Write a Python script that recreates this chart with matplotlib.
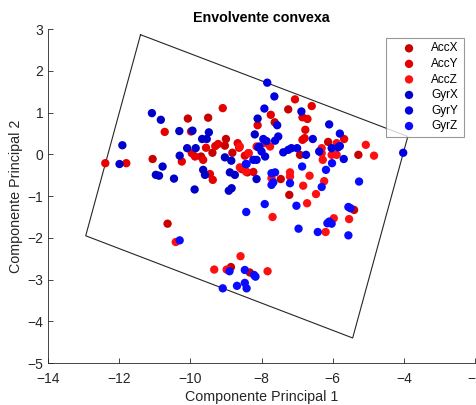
import matplotlib
matplotlib.use("Agg")
import matplotlib.pyplot as plt

plt.rcParams["font.family"] = ["Liberation Sans", "DejaVu Sans"]

series_names = ["AccX", "AccY", "AccZ", "GyrX", "GyrY", "GyrZ"]
series_colors = ["#c80000", "#e60000", "#ff1010", "#0000c8", "#0000e0", "#0a0aff"]

# principal component scores per sensor channel
accx_x = [-11.06, -10.07, -9.50, -9.38, -9.00, -9.03, -8.82, -7.25, -7.63, -5.28,
          -10.64, -5.40, -8.86, -9.70, -8.33, -6.13, -7.22, -8.40, -7.46, -6.92]
accx_y = [-0.11, 0.86, 0.88, 0.04, 0.37, 0.21, 0.04, 1.08, 0.77, -0.01,
          -1.66, -1.33, -2.70, -0.05, -2.83, 0.30, -0.97, -0.43, -0.59, -0.01]

accy_x = [-12.39, -11.80, -10.72, -10.24, -9.98, -9.09, -9.96, -9.87, -9.64, -9.56,
          -9.30, -9.22, -8.67, -8.63, -8.37, -8.47, -8.56, -8.23, -9.45, -9.37,
          -8.11, -7.06, -6.59, -7.74, -6.85, -6.71, -6.77, -5.68, -6.85, -6.79]
accy_y = [-0.21, -0.21, 0.54, -0.17, 0.55, 1.11, 0.03, -0.05, -0.13, 0.16,
          0.20, 0.25, 0.27, 0.16, 0.03, -0.03, -0.35, -0.42, -0.47, -0.61,
          0.70, 1.32, 1.16, 0.95, 0.89, 0.85, 0.59, 0.37, 0.35, 0.39]

accz_x = [-5.89, -7.90, -7.76, -8.14, -8.61, -8.36, -6.31, -6.31, -6.03, -5.89,
          -6.28, -5.07, -4.84, -8.61, -8.44, -7.72, -7.20, -7.20, -6.65, -6.83,
          -6.24, -6.47, -6.72, -7.69, -6.20, -5.97, -5.54, -10.41, -9.33, -8.98,
          -8.59, -7.83]
accz_y = [0.27, 0.27, 0.19, 0.19, 0.19, 0.03, 0.15, 0.03, -0.01, -0.01,
          -0.13, 0.23, -0.03, -0.31, -0.41, -0.57, -0.43, -0.53, -0.51, -0.75,
          -0.64, -0.95, -1.17, -1.50, -1.86, -1.53, -1.55, -2.10, -2.76, -2.76,
          -2.44, -2.80]

gyrx_x = [-11.91, -11.99, -11.08, -10.83, -10.78, -10.97, -10.88, -10.46, -10.31, -10.30,
          -9.94, -9.48, -10.09, -9.85, -9.67, -9.54, -9.03, -8.85, -8.44, -8.89,
          -8.75, -9.64, -9.59, -9.88, -8.92, -8.84, -8.14, -8.11, -8.19]
gyrx_y = [0.22, -0.23, 0.99, 0.83, -0.29, -0.49, -0.51, -0.58, 0.56, -0.03,
          0.57, 0.53, 0.15, 0.15, 0.37, 0.37, -0.07, -0.15, -0.23, -0.43,
          -0.49, -0.37, -0.49, -0.84, -0.87, -0.81, -0.59, 0.86, 0.48]

gyry_x = [-8.09, -8.14, -8.23, -7.84, -7.64, -7.92, -6.88, -7.56, -6.10, -7.53,
          -7.62, -7.95, -7.86, -6.56, -5.80, -8.06, -8.00, -7.90, -7.39, -7.25,
          -7.16, -7.00, -6.75, -6.38, -6.03, -5.85, -5.80, -5.69, -4.02]
gyry_y = [0.17, -0.13, -0.13, 1.72, 1.39, 1.10, 1.03, 0.70, 0.72, 0.43,
          0.33, 0.37, 0.32, 0.37, 0.50, 0.19, 0.07, -0.05, 0.05, 0.11,
          0.15, 0.15, -0.01, 0.07, 0.15, 0.17, 0.20, -0.11, 0.04]

gyrz_x = [-8.42, -7.72, -7.62, -7.72, -7.67, -6.86, -7.20, -6.19, -6.02, -5.26,
          -6.31, -7.02, -7.91, -8.43, -6.96, -6.42, -6.15, -6.10, -6.03, -5.56,
          -5.50, -5.56, -10.30, -8.90, -8.47, -8.21, -8.17, -9.09, -8.69, -8.47,
          -8.42]
gyrz_y = [-0.23, -0.45, -0.43, -0.73, -0.67, -0.29, -0.69, -0.37, -0.21, -0.65,
          -0.78, -1.23, -1.19, -1.38, -1.78, -1.86, -1.65, -1.61, -1.66, -1.26,
          -1.29, -1.94, -2.06, -2.80, -2.77, -2.89, -2.93, -3.21, -3.15, -3.08,
          -3.21]

# enclosing polygon (closed)
hull_x = [-11.40, -3.89, -5.44, -12.94, -11.40]
hull_y = [2.87, 0.43, -4.40, -1.95, 2.87]

all_x = [accx_x, accy_x, accz_x, gyrx_x, gyry_x, gyrz_x]
all_y = [accx_y, accy_y, accz_y, gyrx_y, gyry_y, gyrz_y]

fig = plt.figure(figsize=(4.77, 4.05), dpi=100)
ax = fig.add_axes([0.1006, 0.1037, 0.8954, 0.8240])

for xs, ys, name, col in zip(all_x, all_y, series_names, series_colors):
    ax.scatter(xs, ys, s=36, color=col, edgecolors="none", label=name, zorder=3)

ax.plot(hull_x, hull_y, color="#262626", linewidth=0.8, zorder=2)

ax.set_xlim(-14, -2)
ax.set_ylim(-5, 3)
ax.set_xticks(range(-14, -1, 2))
ax.set_yticks(range(-5, 4))
for side in ["top", "right"]:
    ax.spines[side].set_visible(False)
for side in ["left", "bottom"]:
    ax.spines[side].set_color("#262626")
    ax.spines[side].set_linewidth(0.6)
ax.tick_params(direction="in", length=3.5, width=0.6, colors="#262626",
               labelsize=10, labelcolor="#262626")
ax.tick_params(axis="x", pad=6.5)

ax.set_xlabel("Componente Principal 1", fontsize=10.3, color="#262626", labelpad=3)
ax.set_ylabel("Componente Principal 2", fontsize=10.3, color="#262626", labelpad=3)
ax.set_title("Envolvente convexa", fontsize=10.3, fontweight="bold", pad=5)

leg = ax.legend(loc="upper left", bbox_to_anchor=(386 / 477, 1 - 37.7 / 405),
                bbox_transform=fig.transFigure, borderaxespad=0,
                fontsize=8.5, frameon=True, fancybox=False, edgecolor="#7f7f7f",
                handletextpad=0.34, borderpad=0.4, labelspacing=0.3,
                scatterpoints=1, handlelength=3.1)
leg.get_frame().set_linewidth(0.8)
leg.set_zorder(5)

fig.savefig("out.png", dpi=100)
